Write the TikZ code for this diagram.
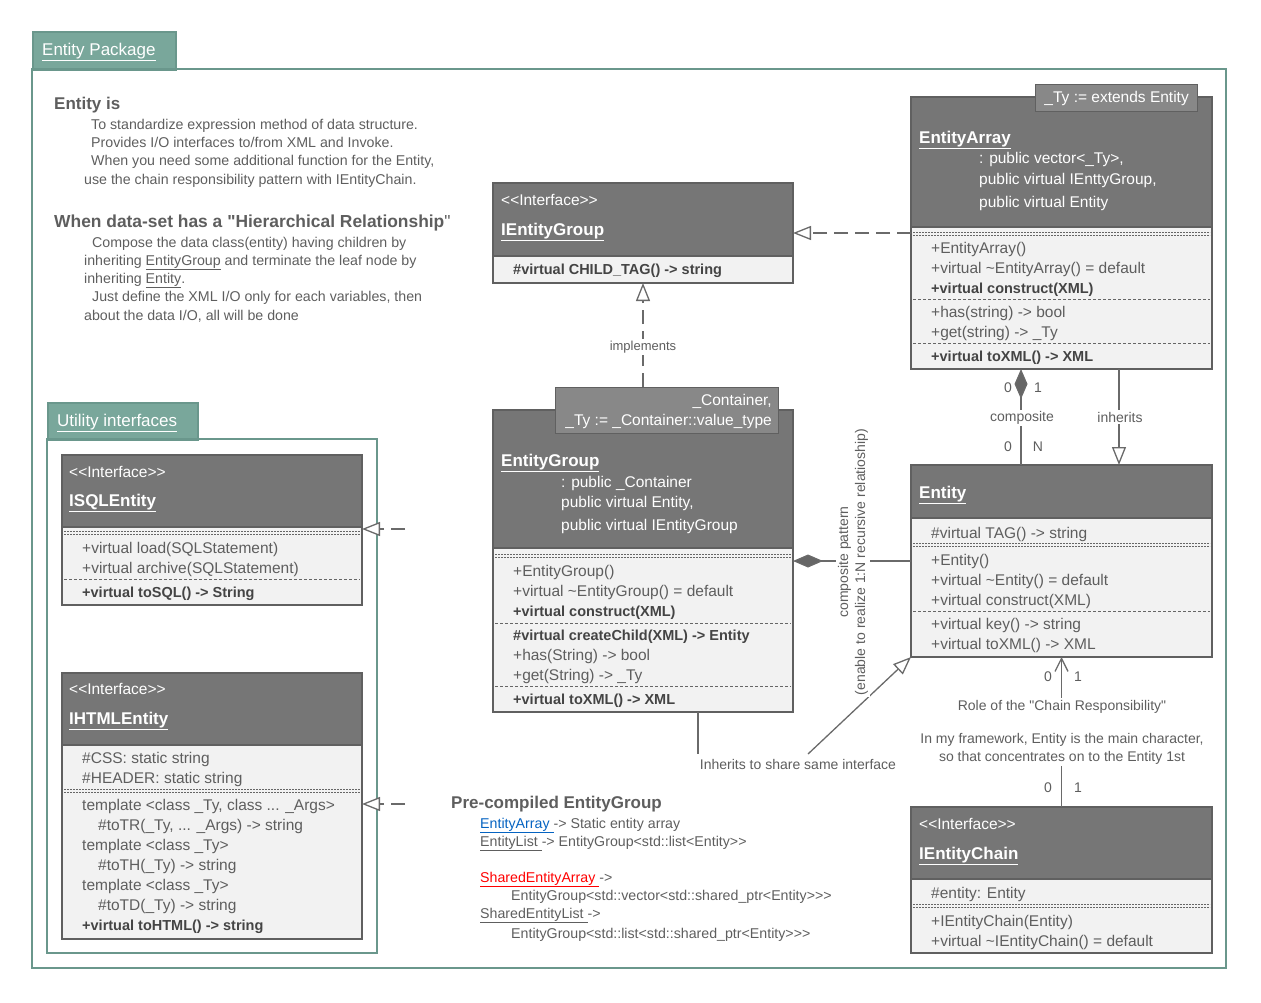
\documentclass[tikz,border=0pt]{standalone}
\usepackage{fontspec}
\setmainfont{Liberation Sans}[Ligatures=TeXOff]
\usetikzlibrary{arrows.meta,calc}
\definecolor{hdc}{HTML}{767676}
\definecolor{bdc}{HTML}{F2F2F2}
\definecolor{lnc}{HTML}{606060}
\definecolor{txc}{HTML}{5E5E5E}
\definecolor{bfc}{HTML}{444444}
\definecolor{tpc}{HTML}{888888}
\definecolor{tealf}{HTML}{79A79B}
\definecolor{teall}{HTML}{6A978C}
\definecolor{sepc}{HTML}{666666}
\definecolor{cnc}{HTML}{6A6A6A}
\definecolor{dmc}{HTML}{666666}
\definecolor{linkb}{HTML}{0563C1}
\definecolor{linkr}{HTML}{FF0000}
\newcommand\Ln[5]{\node[#1] (#2) at (#3,#4) {#5};}
\begin{document}
\begin{tikzpicture}[x=1pt,y=-1pt,
  frame/.style={draw=teall, line width=2pt},
  tab/.style={draw=teall, line width=2pt, fill=tealf, anchor=north west, inner sep=0pt},
  tabt/.style={anchor=base west, inner sep=0pt, text=white, font=\fontsize{17}{20}\selectfont, yshift=-5.5pt},
  body/.style={draw=lnc, line width=1.5pt, fill=bdc, anchor=north west, inner sep=0pt, outer sep=0pt},
  head/.style={draw=lnc, line width=1.5pt, fill=hdc, anchor=north west, inner sep=0pt, outer sep=0pt},
  tmpl/.style={draw=lnc, line width=1.2pt, fill=tpc, anchor=north west, inner sep=0pt},
  t/.style={anchor=base west, inner sep=0pt, text=txc, font=\fontsize{15.5}{18}\selectfont, yshift=-5pt},
  tb/.style={t, text=bfc, font=\bfseries\fontsize{14.5}{18}\selectfont},
  th/.style={t, text=white},
  the/.style={th, anchor=base east},
  ttl/.style={anchor=base west, inner sep=0pt, text=white, font=\bfseries\fontsize{17}{20}\selectfont, yshift=-6pt},
  ti/.style={t, font=\fontsize{14.2}{17}\selectfont},
  hd/.style={anchor=base west, inner sep=0pt, text=txc, font=\bfseries\fontsize{17}{20}\selectfont, yshift=-6pt},
  lab/.style={inner sep=1.5pt, fill=white, text=txc, font=\fontsize{14}{17}\selectfont},
  num/.style={inner sep=0pt, text=txc, font=\fontsize{14}{17}\selectfont},
  dd/.style={draw=sepc, line width=0.8pt, dash pattern=on 2pt off 1pt},
  sd/.style={draw=sepc, line width=0.8pt, dash pattern=on 3pt off 2pt},
  conn/.style={draw=cnc, line width=1.3pt},
  dconn/.style={conn, dash pattern=on 14pt off 7pt},
  tri/.style={-{Triangle[length=18pt, width=14pt, fill=white]}},
  barb/.style={-{Straight Barb[length=13pt, width=13pt]}},
  dia/.style={{Diamond[length=30pt, width=13pt, fill=dmc]}-}
]
\useasboundingbox (0,0) rectangle (1261,1002);

% ---------- package frames ----------
\node[tab, minimum width=143pt, minimum height=38pt] (pkgtab) at (32,31) {};
\draw[frame] (32,69) rectangle (1226,968);
\Ln{tabt}{pkgtabt}{42}{50}{\underline{Entity Package}}

\node[tab, minimum width=150pt, minimum height=37pt] (utab) at (47,402) {};
\draw[frame] (47,439) rectangle (377,953);
\Ln{tabt}{utabt}{57}{421}{\underline{Utility interfaces}}

% ---------- intro text ----------
\Ln{hd}{h1}{54}{103}{Entity is}
\Ln{ti}{i1}{91}{124}{To standardize expression method of data structure.}
\Ln{ti}{i2}{91}{142}{Provides I/O interfaces to/from XML and Invoke.}
\Ln{ti}{i3}{91}{160}{When you need some additional function for the Entity,}
\Ln{ti}{i4}{84}{179}{use the chain responsibility pattern with IEntityChain.}
\Ln{hd}{h2}{54}{221}{\fontsize{17.4}{20}\selectfont When data-set has a "Hierarchical Relationship\mdseries"}
\Ln{ti}{i5}{92}{242}{Compose the data class(entity) having children by}
\Ln{ti}{i6}{84}{260}{inheriting \underline{EntityGroup} and terminate the leaf node by}
\Ln{ti}{i7}{84}{278}{inheriting \underline{Entity}.}
\Ln{ti}{i8}{92}{296}{Just define the XML I/O only for each variables, then}
\Ln{ti}{i9}{84}{315}{about the data I/O, all will be done}

% ---------- IEntityGroup ----------
\node[body, minimum width=300pt, minimum height=100pt] (ieg) at (493,183) {};
\node[head, minimum width=300pt, minimum height=73pt] (iegh) at (493,183) {};
\Ln{th}{iegs}{501}{200}{<{}<Interface>{}>}
\Ln{ttl}{iegt}{501}{229}{\underline{IEntityGroup}}
\Ln{tb}{ieg1}{513}{269}{\#virtual CHILD\_TAG() -> string}

% ---------- EntityGroup ----------
\node[body, minimum width=300pt, minimum height=302pt] (eg) at (493,410) {};
\node[head, minimum width=300pt, minimum height=138pt] (egh) at (493,410) {};
\node[tmpl, minimum width=223pt, minimum height=46pt] (egtp) at (555,387) {};
\Ln{the}{egtp1}{772}{400}{\_Container,}
\Ln{the}{egtp2}{772}{420}{\_Ty := \_Container::value\_type}
\Ln{ttl}{egt}{501}{460}{\underline{EntityGroup}}
\Ln{th}{egh1}{561}{482}{: public \_Container}
\Ln{th}{egh2}{561}{502}{public virtual Entity,}
\Ln{th}{egh3}{561}{525}{public virtual IEntityGroup}
\draw[dd] (495,554) -- (791,554);
\draw[dd] (495,557) -- (791,557);
\Ln{t}{eg1}{513}{571}{+EntityGroup()}
\Ln{t}{eg2}{513}{591}{+virtual \textasciitilde EntityGroup() = default}
\Ln{tb}{eg3}{513}{611}{+virtual construct(XML)}
\draw[sd] (495,623) -- (791,623);
\Ln{tb}{eg4}{513}{635}{\#virtual createChild(XML) -> Entity}
\Ln{t}{eg5}{513}{655}{+has(String) -> bool}
\Ln{t}{eg6}{513}{675}{+get(String) -> \_Ty}
\draw[sd] (495,686) -- (791,686);
\Ln{tb}{eg7}{513}{699}{+virtual toXML() -> XML}

% ---------- EntityArray ----------
\node[body, minimum width=301pt, minimum height=272pt] (ea) at (911,97) {};
\node[head, minimum width=301pt, minimum height=130pt] (eah) at (911,97) {};
\node[tmpl, minimum width=162pt, minimum height=27pt] (eatp) at (1035,84) {};
\Ln{the}{eatp1}{1189}{97}{\_Ty := extends Entity}
\Ln{ttl}{eat}{919}{137}{\underline{EntityArray}}
\Ln{th}{eah1}{979}{158}{: public vector<\_Ty>,}
\Ln{th}{eah2}{979}{179}{public virtual IEnttyGroup,}
\Ln{th}{eah3}{979}{202}{public virtual Entity}
\draw[dd] (913,232) -- (1210,232);
\draw[dd] (913,235) -- (1210,235);
\Ln{t}{ea1}{931}{248}{+EntityArray()}
\Ln{t}{ea2}{931}{268}{+virtual \textasciitilde EntityArray() = default}
\Ln{tb}{ea3}{931}{288}{+virtual construct(XML)}
\draw[sd] (913,299) -- (1210,299);
\Ln{t}{ea4}{931}{312}{+has(string) -> bool}
\Ln{t}{ea5}{931}{332}{+get(string) -> \_Ty}
\draw[sd] (913,343) -- (1210,343);
\Ln{tb}{ea6}{931}{356}{+virtual toXML() -> XML}

% ---------- Entity ----------
\node[body, minimum width=301pt, minimum height=192pt] (en) at (911,465) {};
\node[head, minimum width=301pt, minimum height=53pt] (enh) at (911,465) {};
\Ln{ttl}{ent}{919}{492}{\underline{Entity}}
\Ln{t}{en1}{931}{533}{\#virtual TAG() -> string}
\draw[dd] (913,543) -- (1210,543);
\draw[dd] (913,546) -- (1210,546);
\Ln{t}{en2}{931}{560}{+Entity()}
\Ln{t}{en3}{931}{580}{+virtual \textasciitilde Entity() = default}
\Ln{t}{en4}{931}{600}{+virtual construct(XML)}
\draw[sd] (913,611) -- (1210,611);
\Ln{t}{en5}{931}{624}{+virtual key() -> string}
\Ln{t}{en6}{931}{644}{+virtual toXML() -> XML}

% ---------- IEntityChain ----------
\node[body, minimum width=301pt, minimum height=146pt] (iec) at (911,807) {};
\node[head, minimum width=301pt, minimum height=72pt] (iech) at (911,807) {};
\Ln{th}{iecs}{919}{824}{<{}<Interface>{}>}
\Ln{ttl}{iect}{919}{853}{\underline{IEntityChain}}
\Ln{t}{iec1}{931}{893}{\#entity: Entity}
\draw[dd] (913,904) -- (1210,904);
\draw[dd] (913,907) -- (1210,907);
\Ln{t}{iec2}{931}{921}{+IEntityChain(Entity)}
\Ln{t}{iec3}{931}{941}{+virtual \textasciitilde IEntityChain() = default}

% ---------- ISQLEntity ----------
\node[body, minimum width=300pt, minimum height=150pt] (sql) at (62,455) {};
\node[head, minimum width=300pt, minimum height=72pt] (sqlh) at (62,455) {};
\Ln{th}{sqls}{69}{472}{<{}<Interface>{}>}
\Ln{ttl}{sqlt}{69}{500}{\underline{ISQLEntity}}
\draw[dd] (64,531) -- (360,531);
\draw[dd] (64,534) -- (360,534);
\Ln{t}{sql1}{82}{548}{+virtual load(SQLStatement)}
\Ln{t}{sql2}{82}{568}{+virtual archive(SQLStatement)}
\draw[sd] (64,579) -- (360,579);
\Ln{tb}{sql3}{82}{592}{+virtual toSQL() -> String}

% ---------- IHTMLEntity ----------
\node[body, minimum width=300pt, minimum height=266pt] (htm) at (62,673) {};
\node[head, minimum width=300pt, minimum height=72pt] (htmh) at (62,673) {};
\Ln{th}{htms}{69}{689}{<{}<Interface>{}>}
\Ln{ttl}{htmt}{69}{718}{\underline{IHTMLEntity}}
\Ln{t}{htm1}{82}{758}{\#CSS: static string}
\Ln{t}{htm2}{82}{778}{\#HEADER: static string}
\draw[dd] (64,789) -- (360,789);
\draw[dd] (64,792) -- (360,792);
\Ln{t}{htm3}{82}{805}{template <class \_Ty, class ... \_Args>}
\Ln{t}{htm4}{98}{825}{\#toTR(\_Ty, ... \_Args) -> string}
\Ln{t}{htm5}{82}{845}{template <class \_Ty>}
\Ln{t}{htm6}{98}{865}{\#toTH(\_Ty) -> string}
\Ln{t}{htm7}{82}{885}{template <class \_Ty>}
\Ln{t}{htm8}{98}{905}{\#toTD(\_Ty) -> string}
\Ln{tb}{htm9}{82}{925}{+virtual toHTML() -> string}

% ---------- Pre-compiled ----------
\Ln{hd}{pc}{451}{802}{Pre-compiled EntityGroup}
\Ln{ti}{pc1}{480}{823}{{\color{linkb}\underline{EntityArray\ }}-> Static entity array}
\Ln{ti}{pc2}{480}{841}{\underline{EntityList\ }-> EntityGroup<std::list<Entity>{}>}
\Ln{ti}{pc3}{480}{877}{{\color{linkr}\underline{SharedEntityArray\ }}->}
\Ln{ti}{pc4}{511}{895}{EntityGroup<std::vector<std::shared\_ptr<Entity>{}>{}>}
\Ln{ti}{pc5}{480}{913}{\underline{SharedEntityList\ }->}
\Ln{ti}{pc6}{511}{933}{EntityGroup<std::list<std::shared\_ptr<Entity>{}>{}>}

% ---------- helper coordinates ----------
\coordinate (y233) at (0,233);
\coordinate (y561) at (0,561);
\coordinate (x1021) at (1021,0);
\coordinate (x1119) at (1119,0);
\coordinate (ih1) at (698,754);
\coordinate (ih2) at (808,754);
\coordinate (sqe) at (405,529);
\coordinate (hte) at (405,804);

% ---------- connectors ----------
\draw[dconn, tri] (ea.west |- y233) -- (ieg.east |- y233);
\draw[dconn, tri] (ieg.south |- egtp.north) -- (ieg.south);
\draw[conn, dia] (eg.east |- y561) -- (en.west |- y561);
\draw[conn, dia] (ea.south -| x1021) -- (en.north -| x1021);
\draw[conn, tri] (ea.south -| x1119) -- (en.north -| x1119);
\draw[conn, barb] (iec.north) -- (en.south);
\draw[conn] (eg.south -| ih1) -- (ih1);
\draw[conn, tri] (ih2) -- (en.south west);
\draw[dconn, tri] (sqe) -- (sql.east |- sqe);
\draw[dconn, tri] (hte) -- (htm.east |- hte);

% ---------- connector labels ----------
\node[lab, font=\fontsize{13}{16}\selectfont] (limp) at (643,347) {implements};
\node[lab, rotate=90, align=center, font=\fontsize{14}{17}\selectfont] (lcp) at (853,562) {composite pattern\\(enable to realize 1:N recursive relatioship)};
\node[lab] (lcomp) at (1022,418) {composite};
\node[lab] (linh) at (1120,417) {inherits};
\node[lab, inner sep=0pt] (linh2) at (798,764) {Inherits to share same interface};
\node[lab, align=center, font=\fontsize{14}{18}\selectfont] (lchain) at (1062,732) {Role of the "Chain Responsibility"\\[15pt]In my framework, Entity is the main character,\\so that concentrates on to the Entity 1st};
\node[num] (n1) at (1008,388) {0};
\node[num] (n2) at (1038,388) {1};
\node[num] (n3) at (1008,447) {0};
\node[num] (n4) at (1038,447) {N};
\node[num] (n5) at (1048,677) {0};
\node[num] (n6) at (1078,677) {1};
\node[num] (n7) at (1048,788) {0};
\node[num] (n8) at (1078,788) {1};
\end{tikzpicture}
\end{document}
